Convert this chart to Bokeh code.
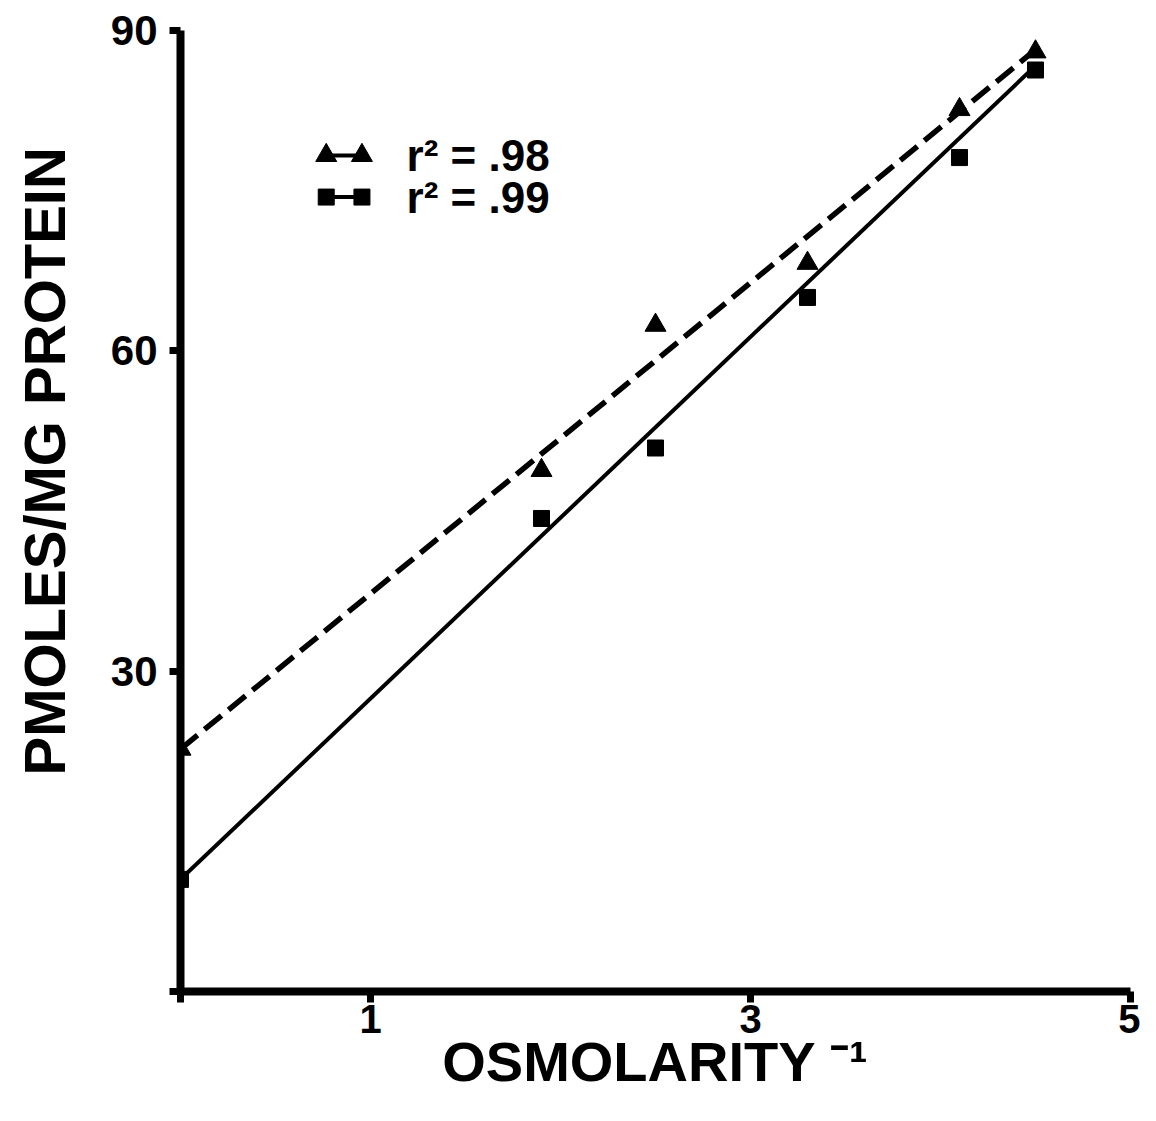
from bokeh.plotting import figure
from bokeh.models import FixedTicker, Label, Range1d, Title, LinearAxis
from bokeh.embed import file_html
from bokeh.resources import INLINE

# ---- data ----
tri_x = [0.0, 1.9, 2.5, 3.3, 4.1, 4.5]
tri_y = [22.7, 48.8, 62.4, 68.2, 82.6, 88.0]
sq_x = [0.0, 1.9, 2.5, 3.3, 4.1, 4.5]
sq_y = [10.5, 44.3, 50.9, 65.0, 78.1, 86.3]

fit_x = [0.0, 4.5]
tri_fit_y = [22.7, 88.2]
sq_fit_y = [10.5, 86.7]

x_ticks = [0, 1, 3, 5]
y_ticks = [0, 30, 60, 90]
legend_labels = ["r² = .98", "r² = .99"]
x_title = "OSMOLARITY ⁻¹"
y_title = "PMOLES/MG PROTEIN"

FONT = "Liberation Sans"

p = figure(width=1140, height=1105, output_backend="svg", toolbar_location=None,
           x_range=Range1d(0, 5), y_range=Range1d(0, 90),
           min_border_left=180, min_border_right=10, min_border_top=30, min_border_bottom=114)
p.outline_line_color = None
p.xgrid.visible = False
p.ygrid.visible = False
p.background_fill_color = "white"
p.border_fill_color = "white"

for ax, ticks in ((p.xaxis[0], x_ticks), (p.yaxis[0], y_ticks)):
    ax.ticker = FixedTicker(ticks=ticks)
    ax.minor_tick_line_color = None
    ax.axis_line_width = 8
    ax.axis_line_color = "black"
    ax.major_tick_line_width = 7
    ax.major_tick_line_color = "black"
    ax.major_tick_in = 0
    ax.major_tick_out = 11
    ax.major_label_text_font = FONT
    ax.major_label_text_font_style = "bold"
    ax.major_label_text_color = "black"
    ax.major_label_overrides = {0: ""}
p.xaxis[0].major_label_text_font_size = "40px"
p.yaxis[0].major_label_text_font_size = "42px"
p.xaxis[0].major_label_standoff = 2
p.yaxis[0].major_label_standoff = 12

p.xaxis[0].axis_label = x_title
p.xaxis[0].axis_label_standoff = -6
p.xaxis[0].axis_label_text_font = FONT
p.xaxis[0].axis_label_text_font_style = "bold"
p.xaxis[0].axis_label_text_font_size = "56px"
p.xaxis[0].axis_label_text_color = "black"

# blank spacer between the y tick labels and the y title
spacer = LinearAxis(ticker=FixedTicker(ticks=[45]), axis_line_color=None,
                    major_tick_line_color=None, minor_tick_line_color=None,
                    major_tick_in=0, major_tick_out=22, major_label_standoff=0,
                    major_label_overrides={45: ""}, major_label_text_alpha=0)
p.add_layout(spacer, "left")

# y title as a left-side title so that it can be shifted along the axis
p.add_layout(Title(text=y_title, align="left", offset=216, standoff=18,
                   text_font=FONT, text_font_style="bold", text_font_size="58px",
                   text_color="black"), "left")

# regression lines
p.line(fit_x, tri_fit_y, line_color="black", line_width=5.5, line_dash="22 9")
p.line(fit_x, sq_fit_y, line_color="black", line_width=4)

# data points
p.scatter(tri_x, tri_y, marker="triangle", size=21, fill_color="black", line_color="black")
p.scatter(sq_x, sq_y, marker="square", size=16, fill_color="black", line_color="black")

# legend (drawn by hand, markers at both ends)
leg_x = [0.767, 0.955]
leg_y = [78.3, 74.4]
p.line(leg_x, [leg_y[0]] * 2, line_color="black", line_width=4)
p.scatter(leg_x, [leg_y[0]] * 2, marker="triangle", size=21, fill_color="black", line_color="black")
p.line(leg_x, [leg_y[1]] * 2, line_color="black", line_width=4)
p.scatter(leg_x, [leg_y[1]] * 2, marker="square", size=16, fill_color="black", line_color="black")
for yy, txt in zip(leg_y, legend_labels):
    p.add_layout(Label(x=1.19, y=yy, text=txt, text_font=FONT, text_font_style="bold",
                       text_font_size="44px", text_align="left", text_baseline="middle",
                       text_color="black"))

open("out.html", "w").write(file_html(p, INLINE))
